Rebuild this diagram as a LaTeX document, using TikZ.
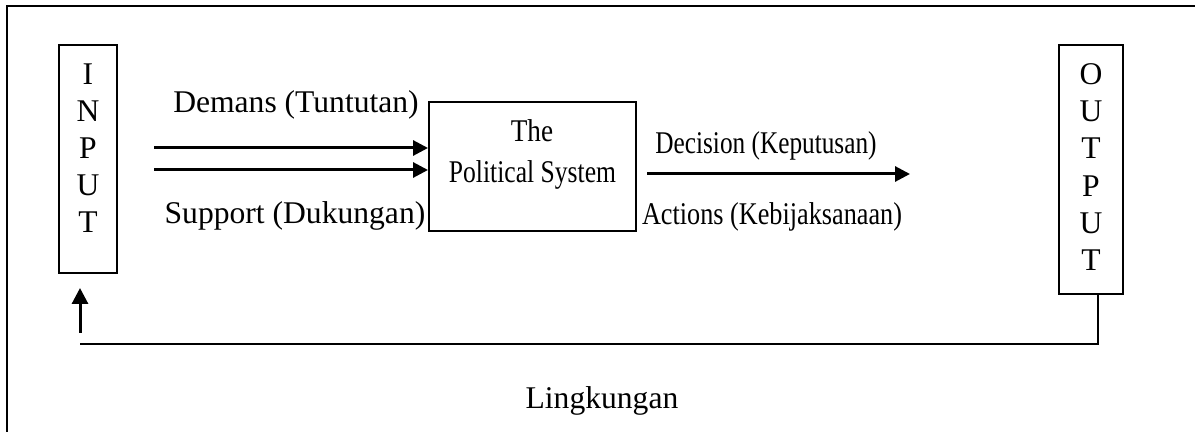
\documentclass[tikz,border=0pt]{standalone}
\usepackage{fontspec}
\setmainfont{Liberation Serif}
\usetikzlibrary{arrows.meta}
\newcommand{\narrow}[2]{\scalebox{#1}[1]{#2}}
\begin{document}
\begin{tikzpicture}[x=0.5pt,y=-0.5pt,
  box/.style={draw,line width=1pt,inner sep=0pt},
  lbl/.style={anchor=base,inner sep=0pt,font=\fontsize{15.8}{19}\selectfont},
  arr/.style={line width=1.5pt,-{Triangle[length=7.5pt,width=7.5pt]}},
  fb/.style={line width=1.2pt}]
\useasboundingbox (0,0) rectangle (1195,432);
% outer frame (only top and left edges visible)
\draw[line width=1.2pt] (7,432) -- (7,6) -- (1195,6);
% boxes
\node[box,minimum width=29pt,minimum height=114pt] (in) at (88,159) {};
\node[box,minimum width=103.5pt,minimum height=64.5pt] (ps) at (532.5,166.5) {};
\node[box,minimum width=32pt,minimum height=124.5pt] (out) at (1091,169.5) {};
% letters
\foreach \l [count=\i from 0] in {I,N,P,U,T}
  \node[lbl] (inl\i) at (88,85+37*\i) {\l};
\foreach \l/\yy [count=\i from 0] in {O/85,U/122,T/159,P/197,U/234,T/271}
  \node[lbl] (outl\i) at (1091,\yy) {\l};
\node[lbl] (the) at (532,142) {\narrow{0.86}{The}};
\node[lbl] (pol) at (532.5,183) {\narrow{0.81}{Political System}};
% arrow labels
\node[lbl] (dem) at (296,113) {Demans (Tuntutan)};
\node[lbl] (sup) at (295,224) {Support (Dukungan)};
\node[lbl] (dec) at (766,154) {\narrow{0.80}{Decision (Keputusan)}};
\node[lbl] (act) at (772,225) {\narrow{0.83}{Actions (Kebijaksanaan)}};
\node[lbl] (env) at (602,409) {Lingkungan};
% input arrows
\coordinate (d1) at (154,148);
\coordinate (d2) at (154,170);
\draw[arr] (d1) -- (ps.west |- d1);
\draw[arr] (d2) -- (ps.west |- d2);
% output arrow
\coordinate (o1) at (647,174);
\coordinate (o2) at (910,174);
\draw[arr] (o1) -- (o2);
% feedback loop
\coordinate (fbR) at (1098,344);
\coordinate (fbL) at (80,344);
\coordinate (upS) at (80,333);
\coordinate (upE) at (80,288);
\draw[fb] (out.south -| fbR) -- (fbR) -- (fbL);
\draw[line width=1.5pt,-{Triangle[length=8pt,width=8pt]}] (upS) -- (upE);
\end{tikzpicture}
\end{document}
